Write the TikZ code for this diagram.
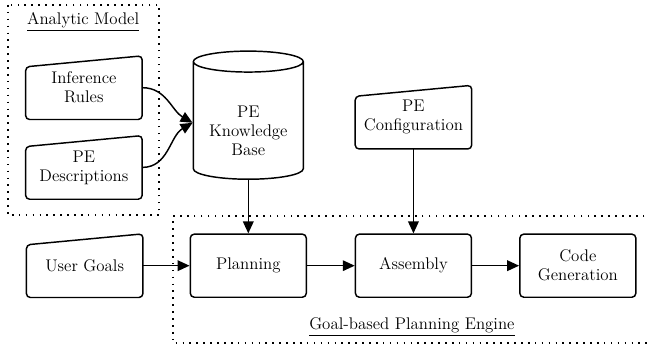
\documentclass[tikz,border=0pt]{standalone}
\usepackage{amsmath}
\usepackage{xcolor}
\usepackage{tikz}
\usetikzlibrary{shapes.geometric,arrows.meta}

\begin{document}
\begin{tikzpicture}[
	font=\fontsize{12.7}{14.3}\selectfont,
	block/.style={draw,line width=1.1pt,rounded corners=3pt,minimum width=3.07cm,minimum height=1.67cm,align=center},
	input/.style={minimum width=3.07cm,minimum height=1.67cm,align=center},
	frame/.style={line width=1.2pt,dash pattern=on 1.2pt off 4pt},
	flow/.style={line width=1.1pt,-{Triangle[length=9pt,width=8pt]}}
]
	\useasboundingbox (0,0) rectangle (17.12,-9.18);

	% dotted frames
	\draw[frame] (0.21,-0.13) rectangle (4.21,-5.69);
	\draw[frame] (17.6,-5.72) -- (4.58,-5.72) -- (4.58,-9.08) -- (17.6,-9.08);
	\node (analytic) at (2.2,-0.58) {\underline{Analytic Model}};
	\node (engine) at (10.9,-8.65) {\underline{Goal-based Planning Engine}};

	% inputs
	\node[input] (rules) at (2.22,-2.32) {Inference\\Rules};
	\node[input] (descr) at (2.22,-4.43) {PE\\Descriptions};
	\node[input] (config) at (10.94,-3.1) {PE\\Configuration};
	\node[input] (goals) at (2.24,-7.03) {User Goals};
	\foreach \n in {rules,descr,config,goals}
		\draw[line width=1.1pt,rounded corners=3pt] (\n.south west) -- ([yshift=-0.29cm]\n.north west) -- (\n.north east) -- (\n.south east) -- cycle;

	\node[cylinder,shape border rotate=90,aspect=0.24,draw,line width=1.1pt,minimum width=2.91cm,minimum height=3.39cm,align=center] (kb) at (6.57,-3.25) {\rule{0pt}{20pt}PE\\Knowledge\\Base};

	% engine steps
	\node[block] (plan) at (6.57,-7.03) {Planning};
	\node[block] (asm) at (10.94,-7.03) {Assembly};
	\node[block] (gen) at (15.29,-7.03) {Code\\Generation};

	\draw[flow] (rules.east) to[out=0,in=150] (kb.west);
	\draw[flow] (descr.east) to[out=0,in=210] (kb.west);
	\draw[flow] (kb.south) -- (plan.north);
	\draw[flow] (config.south) -- (asm.north);
	\draw[flow] (goals.east) -- (plan.west);
	\draw[flow] (plan.east) -- (asm.west);
	\draw[flow] (asm.east) -- (gen.west);
\end{tikzpicture}
\end{document}
